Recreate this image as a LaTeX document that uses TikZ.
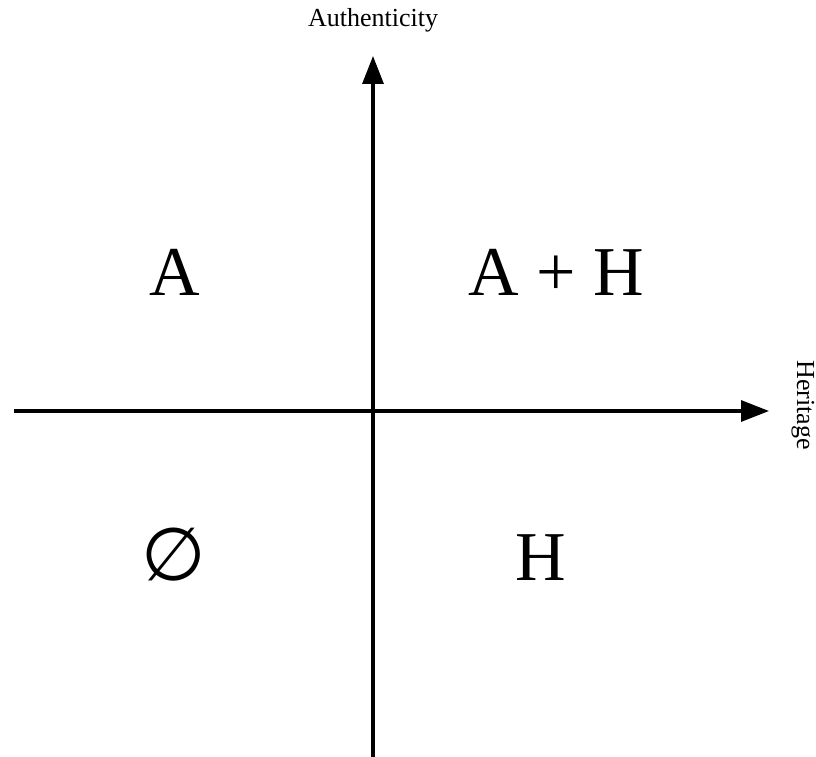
\documentclass[tikz,border=0pt]{standalone}
\usepackage{fontspec}
\setmainfont{Liberation Serif}
\newfontfamily\symfont{DejaVu Sans}
\usetikzlibrary{arrows.meta}
\begin{document}
\begin{tikzpicture}[x=1pt,y=-1pt,
  axis/.style={line width=3.2pt,-{Triangle[length=28pt,width=21pt]}},
  axislabel/.style={font=\fontsize{26}{28}\selectfont,inner sep=0pt},
  quad/.style={font=\fontsize{70}{72}\selectfont,inner sep=0pt}]
\useasboundingbox (0,0) rectangle (816,757);
\coordinate (vb) at (373,757);
\coordinate (vt) at (373,56);
\coordinate (hl) at (14,411);
\coordinate (hr) at (769,411);
\draw[axis] (vb) -- (vt);
\draw[axis] (hl) -- (hr);
\node[axislabel] (auth) at (373,20) {Authenticity};
\node[axislabel,rotate=-90] (her) at (803,405) {Heritage};
\node[quad] (qa) at (175,272) {A};
\node[quad] (qah) at (556,272) {A + H};
\node[quad,font=\symfont\fontsize{74}{76}\selectfont] (qe) at (174,555) {∅};
\node[quad] (qh) at (541,558) {H};
\end{tikzpicture}
\end{document}
